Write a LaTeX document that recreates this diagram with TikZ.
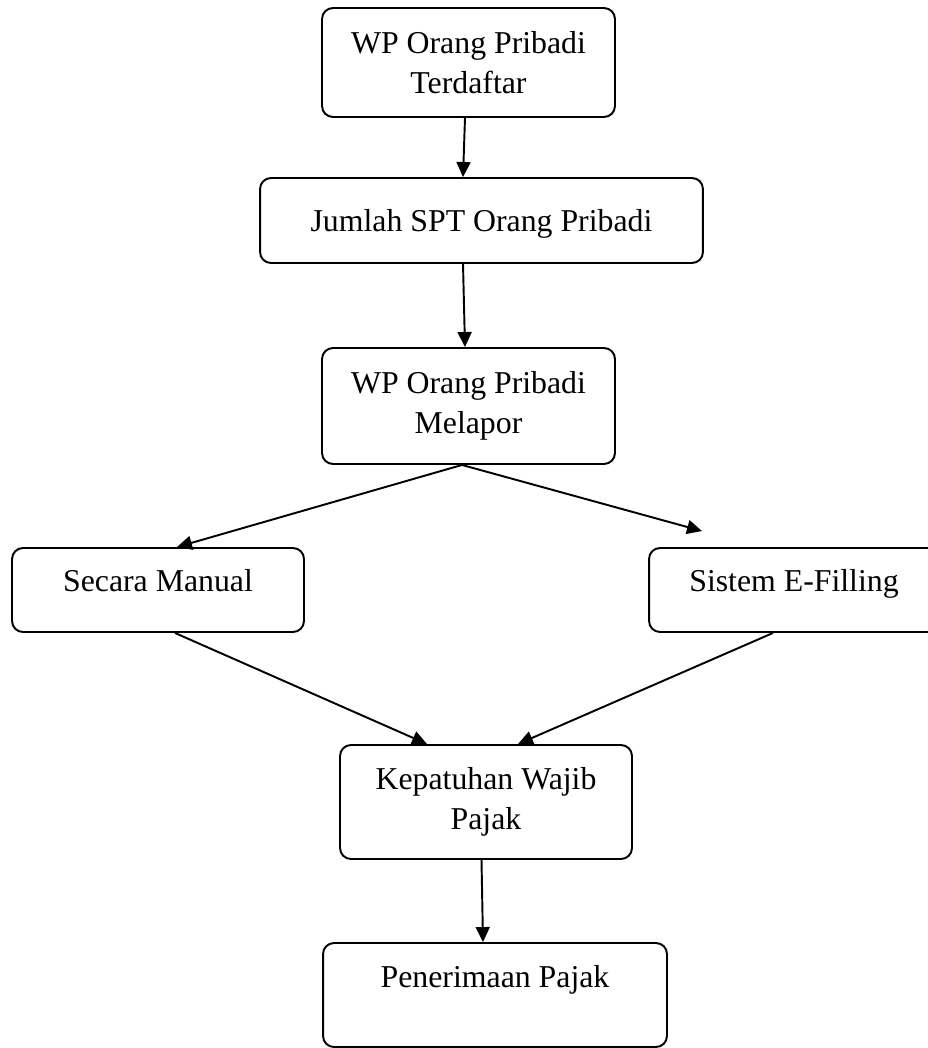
\documentclass[tikz,border=0pt]{standalone}
\usepackage{fontspec}
\setmainfont{Liberation Serif}
\usetikzlibrary{arrows.meta}

\tikzset{
  box/.style={draw, rounded corners=0.22cm, line width=1.1pt, align=center,
    inner sep=2pt, font=\fontsize{18.1}{22.8}\selectfont},
  arr/.style={-{Triangle[length=0.3cm,width=0.28cm]}, line width=1.1pt}
}

\begin{document}
\begin{tikzpicture}[x=0.02cm, y=-0.02cm]
  \useasboundingbox (0,0) rectangle (928,1048);

  % Boxes
  \node[box, minimum width=5.86cm, minimum height=2.18cm] (terdaftar) at (468.5,62.5)
    {WP Orang Pribadi\\Terdaftar};
  \node[box, minimum width=8.86cm, minimum height=1.7cm, text height=0.44cm, text depth=0cm] (jumlah) at (481.5,220.5)
    {Jumlah SPT Orang Pribadi};
  \node[box, minimum width=5.86cm, minimum height=2.32cm] (melapor) at (468.5,406)
    {WP Orang Pribadi\\Melapor};
  \node[box, minimum width=5.84cm, minimum height=1.68cm, text height=0.44cm, text depth=0.4cm] (manual) at (158,590)
    {Secara Manual};
  \node[box, minimum width=5.8cm, minimum height=1.68cm, text height=0.44cm, text depth=0.4cm] (efiling) at (794,590)
    {Sistem E-Filling};
  \node[box, minimum width=5.84cm, minimum height=2.28cm] (kepatuhan) at (486,802)
    {Kepatuhan Wajib\\Pajak};
  \node[box, minimum width=6.88cm, minimum height=2.08cm, text height=0.44cm, text depth=0.74cm] (penerimaan) at (495,995)
    {Penerimaan Pajak};

  % Arrows down the middle
  \draw[arr] ([xshift=-0.07cm]terdaftar.south) -- ([xshift=-0.37cm]jumlah.north);
  \draw[arr] ([xshift=-0.37cm]jumlah.south) -- ([xshift=-0.07cm]melapor.north);

  % Split into the two ways of reporting
  \draw[arr] ([xshift=-0.13cm]melapor.south) -- ([xshift=0.38cm]manual.north);
  \draw[arr] ([xshift=-0.13cm]melapor.south) -- ([xshift=-1.84cm,yshift=0.32cm]efiling.north);

  % Join again
  \draw[arr] ([xshift=0.34cm]manual.south) -- ([xshift=-1.18cm]kepatuhan.north);
  \draw[arr] ([xshift=-0.42cm]efiling.south) -- ([xshift=0.64cm]kepatuhan.north);

  \draw[arr] ([xshift=-0.09cm]kepatuhan.south) -- ([xshift=-0.24cm]penerimaan.north);
\end{tikzpicture}
\end{document}
